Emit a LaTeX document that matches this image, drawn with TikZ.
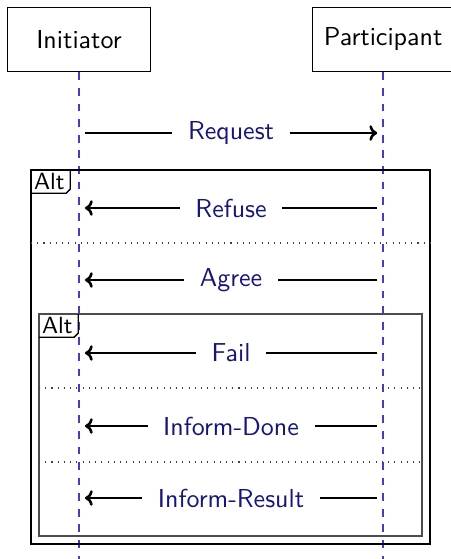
\documentclass[tikz,border=0pt]{standalone}
\usepackage{tikz}
\usetikzlibrary{positioning, arrows.meta}
\definecolor{msgnavy}{HTML}{16167A}
\definecolor{lifeblue}{HTML}{4040C0}

\begin{document}
\begin{tikzpicture}[%
		x=0.385pt, y=-0.385pt,
		font=\sffamily,
		actor/.style={
			rectangle,
			minimum width=54.7pt,
			minimum height=25pt,
			thin,
			black,
			draw
		},
		lifeline/.style={
			lifeblue,
			line width=0.6pt,
			dashed
		},
		msg/.style={
			line width=1pt,
			shorten <=2.3pt,
			shorten >=2.3pt,
			-{To[length=3pt,width=6pt]}
		},
		msglabel/.style={
			fill=white,
			text=msgnavy,
			inner xsep=6pt,
			inner ysep=1pt
		},
		outerframe/.style={
			black,
			line width=0.6pt
		},
		innerframe/.style={
			black!70,
			line width=0.8pt
		},
		alttag/.style={
			anchor=north west,
			font=\sffamily\small,
			inner xsep=1pt,
			inner ysep=1.1pt
		},
		tagline/.style={
			black,
			line width=0.5pt
		},
		altsep/.style={
			black!75,
			dotted
		}]

		\useasboundingbox (0,0) rectangle (451,559);

		% ACTORS

		\node (ini) [actor] at (79,39.5) {Initiator};
		\node (part) [actor, right=62pt of ini] {Participant};

		% LIFELINES

		\coordinate (ini-end) at (ini |- 0,559);
		\coordinate (part-end) at (part |- 0,559);
		\draw[lifeline] (ini.south) -- (ini-end);
		\draw[lifeline] (part.south) -- (part-end);

		% ALT FRAMES

		\coordinate (alt1-nw) at (31,170);
		\coordinate (alt1-se) at (430,544);
		\coordinate (alt2-nw) at (39,314);
		\coordinate (alt2-se) at (422,536);
		\draw[outerframe] (alt1-nw) rectangle (alt1-se);
		\draw[innerframe] (alt2-nw) rectangle (alt2-se);

		\node (tag1) [alttag] at (alt1-nw) {Alt};
		\node (tag2) [alttag] at (alt2-nw) {Alt};
		\foreach \t in {tag1, tag2}{
			\draw[tagline] ([xshift=1pt]\t.north east) -- ([xshift=1pt,yshift=1.6pt]\t.south east) -- ([xshift=-0.6pt]\t.south east) -- (\t.south west);
		}

		\coordinate (sep1-w) at (alt1-nw |- 0,243);
		\coordinate (sep1-e) at (alt1-se |- 0,243);
		\coordinate (sep2-w) at (alt2-nw |- 0,388);
		\coordinate (sep2-e) at (alt2-se |- 0,388);
		\coordinate (sep3-w) at (alt2-nw |- 0,462);
		\coordinate (sep3-e) at (alt2-se |- 0,462);
		\draw[altsep] (sep1-w) -- (sep1-e);
		\draw[altsep] (sep2-w) -- (sep2-e);
		\draw[altsep] (sep3-w) -- (sep3-e);

		% MESSAGES

		\foreach \m/\y in {req/133, ref/208, agr/280, fail/353, done/426, res/498}{
			\coordinate (\m-i) at (ini |- 0,\y);
			\coordinate (\m-p) at (part |- 0,\y);
		}

		\draw[msg] (req-i) -- node[msglabel] {Request} (req-p);
		\draw[msg] (ref-p) -- node[msglabel] {Refuse} (ref-i);
		\draw[msg] (agr-p) -- node[msglabel] {Agree} (agr-i);
		\draw[msg] (fail-p) -- node[msglabel] {Fail} (fail-i);
		\draw[msg] (done-p) -- node[msglabel] {Inform-Done} (done-i);
		\draw[msg] (res-p) -- node[msglabel] {Inform-Result} (res-i);
\end{tikzpicture}
\end{document}
